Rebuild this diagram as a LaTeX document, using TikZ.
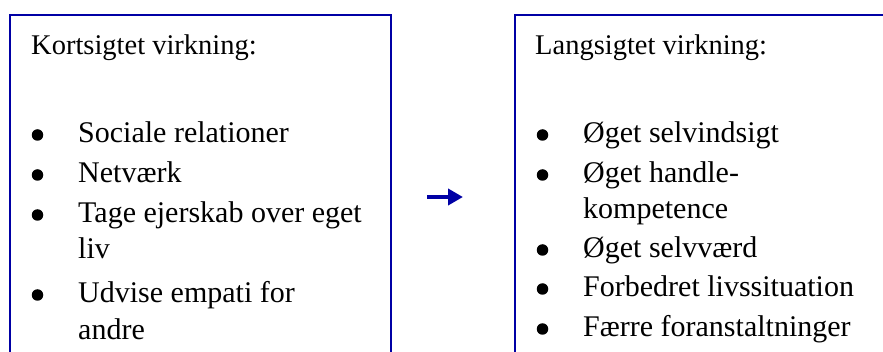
\documentclass[tikz,border=0pt]{standalone}
\usepackage{fontspec}
\setmainfont{Liberation Serif}
\usetikzlibrary{positioning,calc}
\usetikzlibrary{arrows.meta}
\definecolor{boxblue}{RGB}{0,0,165}
\tikzset{
   panel/.style={draw=boxblue, line width=2pt, anchor=north west,
      inner sep=0pt, minimum height=420pt},
   head/.style={anchor=base west, inner sep=0pt,
      font=\fontsize{28.5}{34}\selectfont},
   item/.style={anchor=base west, inner sep=0pt,
      font=\fontsize{30}{36}\selectfont},
   dot/.style={circle, fill=black, inner sep=0pt, minimum size=11.5pt},
   flow/.style={draw=boxblue, line width=4pt,
      -{Triangle[length=15pt,width=16pt]}},
}

\begin{document}
\begin{tikzpicture}[x=1pt,y=-1pt]
      \useasboundingbox (0,0) rectangle (883,352);
      \clip (0,0) rectangle (883,352);

      % the two panels, open at the bottom
      \node[panel, minimum width=381pt] (kort) at (9,14)   {};
      \node[panel, minimum width=400pt] (lang) at (514,14) {};

      % short term
      \node[head] (kh) at (31,55) {Kortsigtet virkning:};
      \node[item] (k1) at (78,143) {Sociale relationer};
      \node[item, below=40pt of k1.base west, anchor=base west] (k2) {Netværk};
      \node[item, below=40pt of k2.base west, anchor=base west] (k3) {Tage ejerskab over eget};
      \node[item, below=36pt of k3.base west, anchor=base west] (k3b) {liv};
      \node[item, below=44pt of k3b.base west, anchor=base west] (k4) {Udvise empati for};
      \node[item, below=37pt of k4.base west, anchor=base west] (k4b) {andre};

      % long term
      \node[head] (lh) at (535,55) {Langsigtet virkning:};
      \node[item] (l1) at (583,143) {Øget selvindsigt};
      \node[item, below=40pt of l1.base west, anchor=base west] (l2) {Øget handle-};
      \node[item, below=36pt of l2.base west, anchor=base west] (l2b) {kompetence};
      \node[item, below=39pt of l2b.base west, anchor=base west] (l3) {Øget selvværd};
      \node[item, below=39pt of l3.base west, anchor=base west] (l4) {Forbedret livssituation};
      \node[item, below=40pt of l4.base west, anchor=base west] (l5) {Færre foranstaltninger};

      % bullets
      \foreach \n in {k1,k2,k3,k4,l1,l2,l3,l4,l5}
         \node[dot] (d\n) at ($(\n.base west)+(-40.5,-8)$) {};

      % arrow between the panels
      \coordinate (a0) at (427,197);
      \coordinate (a1) at (463,197);
      \draw[flow] (a0) -- (a1);
\end{tikzpicture}
\end{document}
